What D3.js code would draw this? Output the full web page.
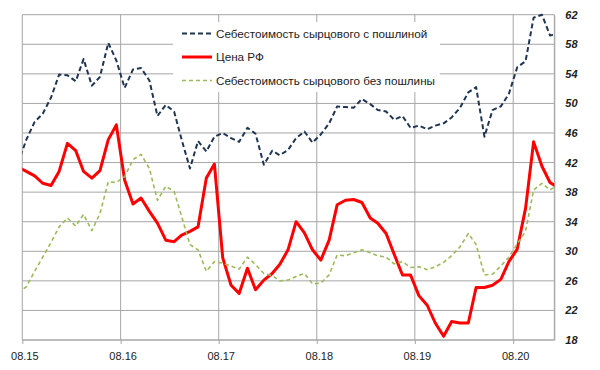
<!DOCTYPE html>
<html>
<head>
<meta charset="utf-8">
<script src="https://cdn.jsdelivr.net/npm/d3@7"></script>
<style>
  body { margin: 0; background: #fff; }
  svg { display: block; }
</style>
</head>
<body>
<div class="root"></div>
<script>
// monthly values, Jul 2015 .. Jan 2021 (first and last fall just outside the axis)
const costWithDuty = [
  41.9, 45.1, 47.5, 48.6, 50.8, 53.9, 53.8, 53.0, 56.0, 52.4, 53.6, 58.2, 55.8,
  52.1, 54.6, 54.8, 53.1, 48.3, 49.8, 48.9, 45.1, 41.2, 44.9, 43.5, 45.5,
  46.0, 45.3, 44.8, 46.7, 45.9, 41.7, 43.6, 43.0, 43.7, 45.3, 46.2, 44.7,
  45.8, 47.3, 49.6, 49.5, 49.4, 50.6, 49.9, 49.1, 48.9, 47.8, 48.3, 46.7,
  47.0, 46.5, 47.0, 47.3, 48.1, 49.4, 51.5, 52.2, 45.5, 49.1, 49.6, 51.3,
  54.9, 55.7, 61.6, 62.0, 59.2, 59.4
]
const priceRF = [
  41.4, 40.8, 40.2, 39.2, 38.9, 40.8, 44.6, 43.6, 40.8, 39.9, 40.9, 45.1, 47.1,
  39.6, 36.4, 37.2, 35.4, 33.8, 31.5, 31.3, 32.2, 32.7, 33.3, 39.9, 41.8,
  29.1, 25.4, 24.3, 27.7, 24.8, 26.1, 27.0, 28.2, 30.2, 34.0, 32.5, 30.2,
  28.8, 31.5, 36.3, 36.9, 37.0, 36.6, 34.5, 33.8, 32.4, 29.6, 26.8, 26.8,
  24.0, 22.7, 20.3, 18.5, 20.5, 20.3, 20.3, 25.1, 25.1, 25.4, 26.2, 28.6,
  30.3, 35.8, 44.8, 41.5, 39.3, 38.6
]
const costNoDuty = [
  24.4, 25.2, 27.3, 29.2, 31.2, 33.3, 34.5, 33.4, 35.0, 32.8, 35.1, 39.4, 39.3,
  40.1, 42.4, 43.1, 41.2, 36.9, 38.8, 38.1, 34.7, 30.9, 30.2, 27.3, 28.6,
  28.4, 28.0, 27.6, 29.2, 28.2, 27.0, 26.7, 26.0, 26.1, 26.6, 27.0, 25.6,
  25.7, 26.8, 29.5, 29.4, 29.8, 30.2, 29.8, 29.4, 29.2, 28.3, 28.6, 27.8,
  27.9, 27.5, 27.9, 28.5, 29.4, 30.6, 32.4, 30.9, 26.8, 26.9, 28.0, 29.2,
  31.0, 32.7, 38.3, 39.2, 38.3, 39.0
]

const seriesNames = ['Себестоимость сырцового с пошлиной', 'Цена РФ', 'Себестоимость сырцового без пошлины']
const xTickLabels = ['08.15', '08.16', '08.17', '08.18', '08.19', '08.20']
const yTicks = [18, 22, 26, 30, 34, 38, 42, 46, 50, 54, 58, 62]

const months = d3.timeMonth.range(new Date(2015, 6, 1), new Date(2021, 1, 1))
const parseTick = d3.timeParse('%m.%y')

const width = 600
    , height = 370
    , plotLeft = 22.3
    , plotRight = 554.3
    , plotTop = 14.7
    , plotBottom = 340

const svg = d3.select('.root')
  .append('svg')
  .attr('width', width)
  .attr('height', height)

const x = d3.scaleTime()
  .domain([new Date(2015, 7, 1), new Date(2021, 0, 1)])
  .range([plotLeft, plotRight])

const y = d3.scaleLinear()
  .domain([18, 62])
  .range([plotBottom, plotTop])

const gridColor = '#a6a6a6'

// horizontal grid
svg.append('g')
  .selectAll('line')
  .data(yTicks)
  .join('line')
  .attr('x1', plotLeft).attr('x2', plotRight)
  .attr('y1', d => y(d)).attr('y2', d => y(d))
  .attr('stroke', gridColor)
  .attr('stroke-width', 1)

// vertical grid
const tickDates = xTickLabels.map(parseTick)
svg.append('g')
  .selectAll('line')
  .data(tickDates.concat([x.domain()[1]]))
  .join('line')
  .attr('x1', d => x(d)).attr('x2', d => x(d))
  .attr('y1', plotTop).attr('y2', plotBottom)
  .attr('stroke', gridColor)
  .attr('stroke-width', 1)

// x axis
const xAxis = d3.axisBottom(x)
  .tickValues(tickDates)
  .tickFormat((d, i) => xTickLabels[i])
  .tickSize(4)
  .tickPadding(8)

const gx = svg.append('g')
  .attr('transform', `translate(0, ${plotBottom})`)
  .call(xAxis)
gx.select('.domain').attr('stroke', gridColor).attr('d', `M${plotLeft},0H${plotRight}`)
gx.selectAll('.tick line').attr('stroke', gridColor)
gx.selectAll('.tick text')
  .attr('font-family', '"Liberation Sans", Arial, sans-serif')
  .attr('font-size', 11)
  .attr('fill', '#222')
  .attr('dx', 2)

// y axis on the right
const yAxis = d3.axisRight(y)
  .tickValues(yTicks)
  .tickSize(0)
  .tickPadding(11)

const gy = svg.append('g')
  .attr('transform', `translate(${plotRight}, 0)`)
  .call(yAxis)
gy.select('.domain').attr('stroke', gridColor)
gy.selectAll('.tick text')
  .attr('font-family', '"Liberation Sans", Arial, sans-serif')
  .attr('font-size', 11)
  .attr('font-weight', 'bold')
  .attr('font-style', 'italic')
  .attr('fill', '#222')

// lines
svg.append('clipPath').attr('id', 'plot')
  .append('rect')
  .attr('x', plotLeft).attr('y', 0)
  .attr('width', plotRight - plotLeft).attr('height', height)

const mid = d => d3.timeDay.offset(d, 15)
const line = d3.line()
  .x((d, i) => x(mid(months[i])))
  .y(d => y(d))

const styles = [
  { data: costWithDuty, color: '#1f3552', width: 2, dash: '5,3' },
  { data: priceRF, color: '#ff0000', width: 3, dash: null },
  { data: costNoDuty, color: '#9bbb59', width: 1.6, dash: '4,3' }
]

const plot = svg.append('g').attr('clip-path', 'url(#plot)')
styles.forEach(s => {
  plot.append('path')
    .datum(s.data)
    .attr('d', line)
    .attr('fill', 'none')
    .attr('stroke', s.color)
    .attr('stroke-width', s.width)
    .attr('stroke-dasharray', s.dash)
    .attr('stroke-linejoin', 'round')
})

// legend
const legend = svg.append('g').attr('transform', 'translate(173, 22)')
legend.append('rect')
  .attr('width', 267).attr('height', 70)
  .attr('fill', '#fff')

seriesNames.forEach((name, i) => {
  const row = legend.append('g').attr('transform', `translate(0, ${11.5 + i * 23.5})`)
  row.append('line')
    .attr('x1', 9).attr('x2', 39)
    .attr('stroke', styles[i].color)
    .attr('stroke-width', styles[i].width)
    .attr('stroke-dasharray', styles[i].dash)
  row.append('text')
    .attr('x', 43).attr('y', 4)
    .attr('font-family', '"Liberation Sans", Arial, sans-serif')
    .attr('font-size', 11.7)
    .attr('fill', '#222')
    .text(name)
})
</script>
</body>
</html>
